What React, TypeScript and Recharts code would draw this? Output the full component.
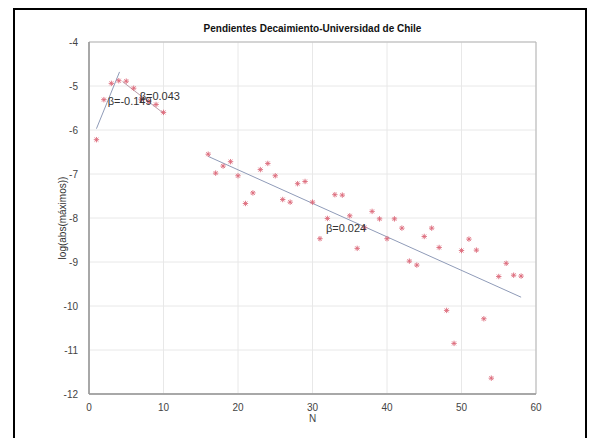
import {
  CartesianGrid,
  ReferenceArea,
  Scatter,
  ScatterChart,
  XAxis,
  YAxis,
} from 'recharts'

// N values and log(abs(max))
const nValues = [
  1, 2, 3, 4, 5, 6, 7, 8, 9, 10,
  16, 17, 18, 19, 20, 21, 22, 23, 24, 25, 26, 27, 28, 29, 30,
  31, 32, 33, 34, 35, 36, 37, 38, 39, 40, 41, 42, 43, 44, 45,
  46, 47, 48, 49, 50, 51, 52, 53, 54, 55, 56, 57, 58,
]
const logMax = [
  -6.22, -5.31, -4.94, -4.88, -4.89, -5.05, -5.3, -5.35, -5.42, -5.6,
  -6.55, -6.98, -6.82, -6.72, -7.04, -7.67, -7.43, -6.9, -6.76, -7.04, -7.58, -7.64, -7.22, -7.17, -7.64,
  -8.47, -8.01, -7.47, -7.48, -7.95, -8.69, -8.22, -7.85, -8.02, -8.47, -8.02, -8.23, -8.98, -9.07, -8.42,
  -8.23, -8.67, -10.1, -10.85, -8.74, -8.48, -8.73, -10.29, -11.64, -9.33, -9.03, -9.3, -9.32,
]

// fitted segments (endpoints)
const fit1N = [1, 4.1]
const fit1Y = [-5.97, -4.68]
const fit2N = [4.5, 10]
const fit2Y = [-4.9, -5.62]
const fit3N = [16, 58]
const fit3Y = [-6.6, -9.8]

const labelTexts = ['β=-0.149', 'β=0.043', 'β=0.024']
const labelN = [2.5, 6.8, 31.8]
const labelY = [-5.33, -5.22, -8.23]

const xTicks = [0, 10, 20, 30, 40, 50, 60]
const yTicks = [-12, -11, -10, -9, -8, -7, -6, -5, -4]

const points = nValues.map((n, i) => ({ n, v: logMax[i] }))
const toSeg = (ns: number[], ys: number[]) => ns.map((n, i) => ({ n, v: ys[i] }))
const labels = labelTexts.map((text, i) => ({ n: labelN[i], v: labelY[i], text }))

const font = '"Liberation Sans", Arial, sans-serif'

function Star(props: any) {
  const { cx, cy } = props
  if (cx == null || cy == null) return null
  const r = 2.7
  const d = r * 0.72
  const color = '#dc6a7a'
  return (
    <g stroke={color} strokeWidth={0.9}>
      <line x1={cx - r} y1={cy} x2={cx + r} y2={cy} />
      <line x1={cx} y1={cy - r} x2={cx} y2={cy + r} />
      <line x1={cx - d} y1={cy - d} x2={cx + d} y2={cy + d} />
      <line x1={cx - d} y1={cy + d} x2={cx + d} y2={cy - d} />
    </g>
  )
}

function TextMark(props: any) {
  const { cx, cy, payload } = props
  return (
    <text x={cx} y={cy} dy={4} fontSize={11} fill="#333" fontFamily={font}>
      {payload.text}
    </text>
  )
}

const noDot = () => <g />

export default function App() {
  return (
    <div style={{ position: 'absolute', left: 0, top: 0, width: 589, height: 438, background: '#fff' }}>
      <div
        style={{
          position: 'absolute',
          left: 13,
          top: 8,
          width: 570,
          height: 440,
          borderLeft: '2px solid #000',
          borderTop: '2px solid #000',
          borderRight: '2px solid #000',
        }}
      />
      <div
        style={{
          position: 'absolute',
          left: 0,
          top: 23,
          width: 625,
          textAlign: 'center',
          fontFamily: font,
          fontWeight: 'bold',
          fontSize: 10,
          color: '#111',
        }}
      >
        Pendientes Decaimiento-Universidad de Chile
      </div>
      <div style={{ position: 'absolute', left: 0, top: 0 }}>
        <ScatterChart width={589} height={438} margin={{ top: 42, right: 53, left: 49, bottom: 14 }}>
          <CartesianGrid stroke="#e8e8e8" strokeWidth={1} />
          <ReferenceArea x1={0} x2={60} y1={-12} y2={-4} fill="none" stroke="#b5b5b5" strokeWidth={1} />
          <XAxis
            type="number"
            dataKey="n"
            domain={[0, 60]}
            ticks={xTicks}
            height={30}
            tickLine={false}
            tickMargin={4}
            axisLine={{ stroke: '#9a9a9a', strokeWidth: 1.5 }}
            tick={{ fontSize: 10, fill: '#444', fontFamily: font }}
            label={{ value: 'N', position: 'insideBottom', offset: 2, fontSize: 10, fill: '#444', fontFamily: font }}
          />
          <YAxis
            type="number"
            dataKey="v"
            domain={[-12, -4]}
            ticks={yTicks}
            width={40}
            tickLine={false}
            tickMargin={5}
            axisLine={{ stroke: '#9a9a9a', strokeWidth: 1.5 }}
            tick={{ fontSize: 10, fill: '#444', fontFamily: font }}
            label={{
              value: 'log(abs(máximos))',
              angle: -90,
              position: 'insideLeft',
              offset: 13,
              style: { textAnchor: 'middle' },
              fontSize: 10,
              fill: '#333',
              fontFamily: font,
            }}
          />
          <Scatter data={toSeg(fit1N, fit1Y)} line={{ stroke: '#8f9bb8', strokeWidth: 1 }} shape={noDot} isAnimationActive={false} />
          <Scatter data={toSeg(fit2N, fit2Y)} line={{ stroke: '#b99aa8', strokeWidth: 1 }} shape={noDot} isAnimationActive={false} />
          <Scatter data={toSeg(fit3N, fit3Y)} line={{ stroke: '#8f9bb8', strokeWidth: 1 }} shape={noDot} isAnimationActive={false} />
          <Scatter data={points} shape={Star} isAnimationActive={false} />
          <Scatter data={labels} shape={TextMark} isAnimationActive={false} />
        </ScatterChart>
      </div>
    </div>
  )
}
